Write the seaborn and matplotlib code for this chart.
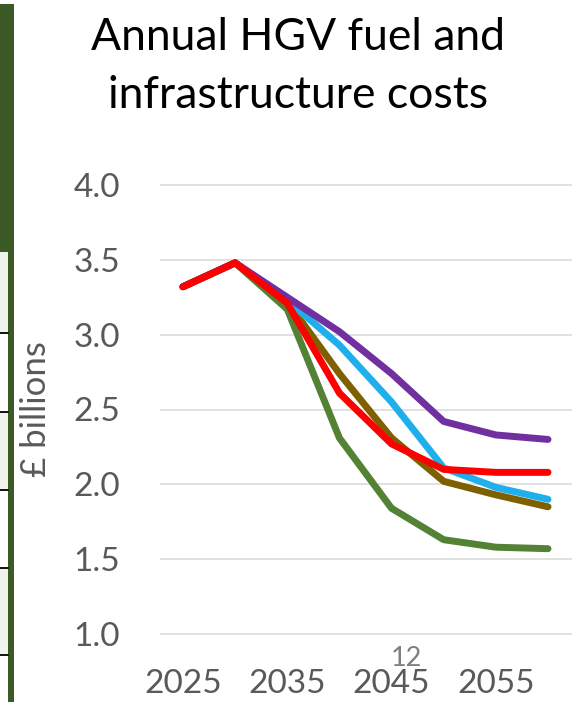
import matplotlib
matplotlib.use("Agg")
import matplotlib.pyplot as plt
from matplotlib.patches import Rectangle
from matplotlib.lines import Line2D
import seaborn as sns
import pandas as pd

# Cost projections (£ billions per year) for each scenario
years = [2025, 2030, 2035, 2040, 2045, 2050, 2055, 2060]
scenario_green = [3.32, 3.48, 3.17, 2.31, 1.84, 1.63, 1.58, 1.57]
scenario_brown = [3.32, 3.48, 3.22, 2.74, 2.31, 2.02, 1.93, 1.85]
scenario_blue = [3.32, 3.48, 3.23, 2.93, 2.55, 2.11, 1.98, 1.90]
scenario_purple = [3.32, 3.48, 3.25, 3.02, 2.74, 2.42, 2.33, 2.30]
scenario_red = [3.32, 3.48, 3.21, 2.61, 2.27, 2.10, 2.08, 2.08]

scenario_names = ["Scenario A", "Scenario B", "Scenario C", "Scenario D", "Scenario E"]
scenario_values = [scenario_green, scenario_brown, scenario_blue, scenario_purple, scenario_red]
scenario_colors = ["#548235", "#7F6000", "#1FB0EC", "#7030A0", "#FF0000"]

x_ticks = [2025, 2035, 2045, 2055]
y_ticks = [1.0, 1.5, 2.0, 2.5, 3.0, 3.5, 4.0]

frame = pd.DataFrame(
    [(name, yr, val)
     for name, vals in zip(scenario_names, scenario_values)
     for yr, val in zip(years, vals)],
    columns=["scenario", "year", "cost"],
)

sns.set_theme(style="white")
plt.rcParams["font.family"] = ["Lato", "DejaVu Sans"]

W, H = 572, 702
fig = plt.figure(figsize=(W / 100, H / 100), dpi=100)
fig.patch.set_facecolor("white")


def fx(px):
    return px / W


def fy(py):
    return 1 - py / H


# Plot area in pixel terms
ax_left, ax_right, ax_top, ax_bottom = 160, 572, 177.5, 641.5
ax = fig.add_axes([fx(ax_left), fy(ax_bottom), fx(ax_right - ax_left), (ax_bottom - ax_top) / H])

sns.lineplot(
    data=frame, x="year", y="cost", hue="scenario",
    palette=scenario_colors, hue_order=scenario_names,
    linewidth=5.0, legend=False, ax=ax,
    solid_capstyle="round", solid_joinstyle="round",
)

ax.set_xlim(2022.8, 2062.3)
ax.set_ylim(0.95, 4.05)
ax.set_xticks(x_ticks)
ax.set_yticks(y_ticks)
ax.set_yticklabels([f"{v:.1f}" for v in y_ticks])
ax.grid(axis="y", color="#D9D9D9", linewidth=1.1)
ax.grid(axis="x", visible=False)
ax.set_axisbelow(True)
for s in ax.spines.values():
    s.set_visible(False)
ax.tick_params(axis="y", length=0, pad=29, labelsize=24, labelcolor="#595959")
ax.tick_params(axis="x", length=0, pad=20, labelsize=24, labelcolor="#595959")
ax.set_xlabel("")
ax.set_ylabel("")

fig.text(fx(36), fy(409), "£ billions", rotation=90, ha="center", va="center",
         fontsize=25, color="#595959")

fig.text(fx(298), fy(38), "Annual HGV fuel and", ha="center", va="center",
         fontsize=32, color="black")
fig.text(fx(298), fy(95), "infrastructure costs", ha="center", va="center",
         fontsize=32, color="black")

# Slide number
fig.text(fx(406), fy(659), "12", ha="center", va="center", fontsize=19.5, color="#7F7F7F")

# Edge of the neighbouring slide panel
dark = "#3B5A25"
light = "#EEF4EA"
fig.add_artist(Rectangle((fx(0), fy(252)), fx(14), (252 - 4) / H,
                         transform=fig.transFigure, color=dark, lw=0))
rows = [252, 333, 412, 490, 568, 655, 702]
for i in range(len(rows) - 1):
    if i % 2 == 0:
        fig.add_artist(Rectangle((fx(0), fy(rows[i + 1])), fx(8), (rows[i + 1] - rows[i]) / H,
                                 transform=fig.transFigure, color=light, lw=0))
for r in rows[1:-1]:
    fig.add_artist(Line2D([fx(0), fx(8)], [fy(r), fy(r)], transform=fig.transFigure,
                          color="black", lw=1.3))
fig.add_artist(Rectangle((fx(8), fy(702)), fx(6), (702 - 252) / H,
                         transform=fig.transFigure, color=dark, lw=0))

fig.savefig("out.png", dpi=100)
